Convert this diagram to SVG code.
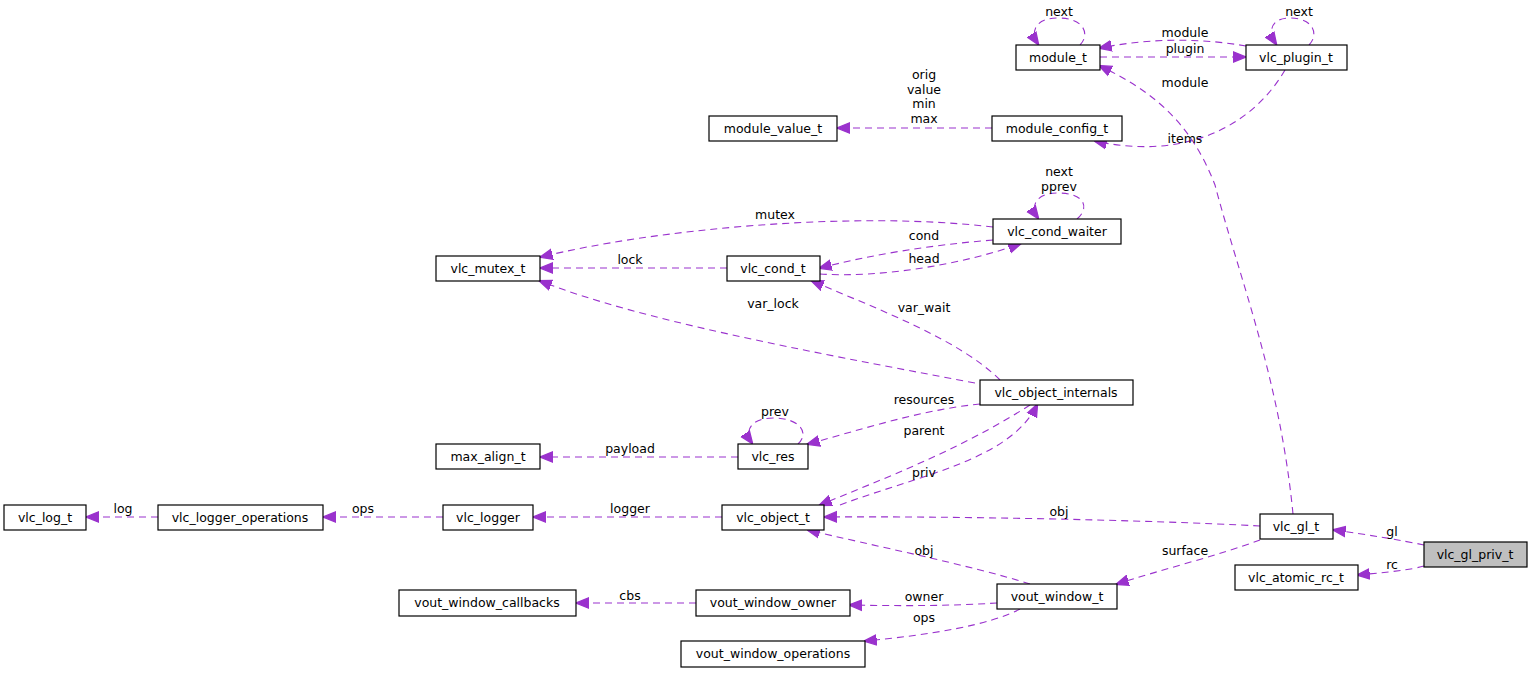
<svg xmlns="http://www.w3.org/2000/svg" width="1533" height="673" viewBox="0 0 1533 673">
<style>
.n rect{fill:#fff;stroke:#000;stroke-width:1.2}
.n text,.l text{font-family:"DejaVu Sans",sans-serif;font-size:12.5px;fill:#000;text-anchor:middle}
.e path{fill:none;stroke:#9a32cd;stroke-width:1.1;stroke-dasharray:7,5;marker-end:url(#a)}
</style>
<defs><marker id="a" viewBox="0 0 10 10" refX="9" refY="5" markerWidth="13" markerHeight="13" markerUnits="userSpaceOnUse" orient="auto"><path d="M0,1L10,5L0,9z" fill="#9a32cd" stroke="#9a32cd"/></marker></defs>
<rect width="1533" height="673" fill="#fff"/>
<g class="e">
<path d="M1080,45C1090,35 1085,18 1058,18C1035,18 1030,32 1038,44"/>
<path d="M1309,45C1319,35 1314,18 1290,18C1270,18 1268,32 1276,44"/>
<path d="M1246,46C1200,38 1150,38 1100,48"/>
<path d="M1100,57L1245,57"/>
<path d="M1285,70C1250,130 1180,160 1095,141"/>
<path d="M1293,514C1280,380 1240,280 1215,185C1190,120 1150,90 1100,66"/>
<path d="M992,128L838,128"/>
<path d="M1077,219C1090,208 1085,193 1058,193C1035,193 1030,207 1038,218"/>
<path d="M993,227C850,210 650,230 541,257"/>
<path d="M993,240C930,245 870,255 820,268"/>
<path d="M820,274C880,278 960,265 1020,244"/>
<path d="M727,268L541,268"/>
<path d="M1000,380C960,340 880,310 812,281"/>
<path d="M975,383C800,350 640,320 540,281"/>
<path d="M980,404C920,410 860,430 808,444"/>
<path d="M798,444C810,433 800,418 773,418C750,418 744,432 752,443"/>
<path d="M738,457L541,457"/>
<path d="M1030,405C960,450 880,480 820,505"/>
<path d="M840,505C920,475 1010,460 1037,405"/>
<path d="M1260,526C1150,520 950,516 825,517"/>
<path d="M722,517L534,517"/>
<path d="M443,517L324,517"/>
<path d="M158,517L87,517"/>
<path d="M1424,545C1400,540 1370,535 1334,530"/>
<path d="M1424,566C1410,570 1390,572 1358,575"/>
<path d="M1260,540C1220,555 1160,570 1117,584"/>
<path d="M1030,584C970,565 870,545 808,530"/>
<path d="M997,603C950,606 900,606 850,605"/>
<path d="M696,603L577,603"/>
<path d="M1020,609C990,625 930,635 865,641"/>
</g>
<g class="l">
<text x="1059" y="16">next</text>
<text x="1299" y="16">next</text>
<text x="1185" y="37">module</text>
<text x="1185" y="53">plugin</text>
<text x="1185" y="87">module</text>
<text x="1185" y="143">items</text>
<text x="924" y="79">orig</text>
<text x="924" y="94">value</text>
<text x="924" y="108">min</text>
<text x="924" y="123">max</text>
<text x="1059" y="176">next</text>
<text x="1059" y="191">pprev</text>
<text x="775" y="219">mutex</text>
<text x="924" y="240">cond</text>
<text x="924" y="263">head</text>
<text x="630" y="264">lock</text>
<text x="773" y="308">var_lock</text>
<text x="924" y="312">var_wait</text>
<text x="924" y="404">resources</text>
<text x="775" y="416">prev</text>
<text x="924" y="435">parent</text>
<text x="630" y="453">payload</text>
<text x="924" y="477">priv</text>
<text x="630" y="513">logger</text>
<text x="1059" y="516">obj</text>
<text x="363" y="513">ops</text>
<text x="123" y="513">log</text>
<text x="1392" y="536">gl</text>
<text x="1392" y="569">rc</text>
<text x="1185" y="555">surface</text>
<text x="924" y="555">obj</text>
<text x="630" y="600">cbs</text>
<text x="924" y="601">owner</text>
<text x="924" y="622">ops</text>
</g>
<g id="module_t" class="n"><rect x="1016" y="45" width="84" height="25"/><text x="1058" y="62">module_t</text></g>
<g id="vlc_plugin_t" class="n"><rect x="1246" y="45" width="101" height="25"/><text x="1296" y="62">vlc_plugin_t</text></g>
<g id="module_value_t" class="n"><rect x="709" y="116" width="128" height="25"/><text x="773" y="133">module_value_t</text></g>
<g id="module_config_t" class="n"><rect x="992" y="116" width="130" height="25"/><text x="1057" y="133">module_config_t</text></g>
<g id="vlc_cond_waiter" class="n"><rect x="993" y="219" width="128" height="25"/><text x="1057" y="236">vlc_cond_waiter</text></g>
<g id="vlc_mutex_t" class="n"><rect x="436" y="256" width="104" height="25"/><text x="488" y="273">vlc_mutex_t</text></g>
<g id="vlc_cond_t" class="n"><rect x="727" y="256" width="93" height="25"/><text x="773" y="273">vlc_cond_t</text></g>
<g id="vlc_object_internals" class="n"><rect x="980" y="380" width="153" height="25"/><text x="1056" y="397">vlc_object_internals</text></g>
<g id="max_align_t" class="n"><rect x="436" y="444" width="104" height="25"/><text x="488" y="461">max_align_t</text></g>
<g id="vlc_res" class="n"><rect x="738" y="444" width="70" height="25"/><text x="773" y="461">vlc_res</text></g>
<g id="vlc_log_t" class="n"><rect x="4" y="505" width="82" height="25"/><text x="45" y="522">vlc_log_t</text></g>
<g id="vlc_logger_operations" class="n"><rect x="158" y="505" width="165" height="25"/><text x="240" y="522">vlc_logger_operations</text></g>
<g id="vlc_logger" class="n"><rect x="443" y="505" width="90" height="25"/><text x="488" y="522">vlc_logger</text></g>
<g id="vlc_object_t" class="n"><rect x="722" y="505" width="102" height="25"/><text x="773" y="522">vlc_object_t</text></g>
<g id="vlc_gl_t" class="n"><rect x="1260" y="514" width="73" height="25"/><text x="1296" y="531">vlc_gl_t</text></g>
<g id="vlc_gl_priv_t" class="n"><rect x="1424" y="542" width="103" height="25" style="fill:#bfbfbf"/><text x="1475" y="559">vlc_gl_priv_t</text></g>
<g id="vlc_atomic_rc_t" class="n"><rect x="1235" y="565" width="123" height="25"/><text x="1296" y="582">vlc_atomic_rc_t</text></g>
<g id="vout_window_callbacks" class="n"><rect x="399" y="590" width="177" height="26"/><text x="487" y="607">vout_window_callbacks</text></g>
<g id="vout_window_owner" class="n"><rect x="696" y="590" width="154" height="26"/><text x="773" y="607">vout_window_owner</text></g>
<g id="vout_window_t" class="n"><rect x="997" y="584" width="120" height="25"/><text x="1057" y="601">vout_window_t</text></g>
<g id="vout_window_operations" class="n"><rect x="681" y="641" width="184" height="26"/><text x="773" y="658">vout_window_operations</text></g>
</svg>
